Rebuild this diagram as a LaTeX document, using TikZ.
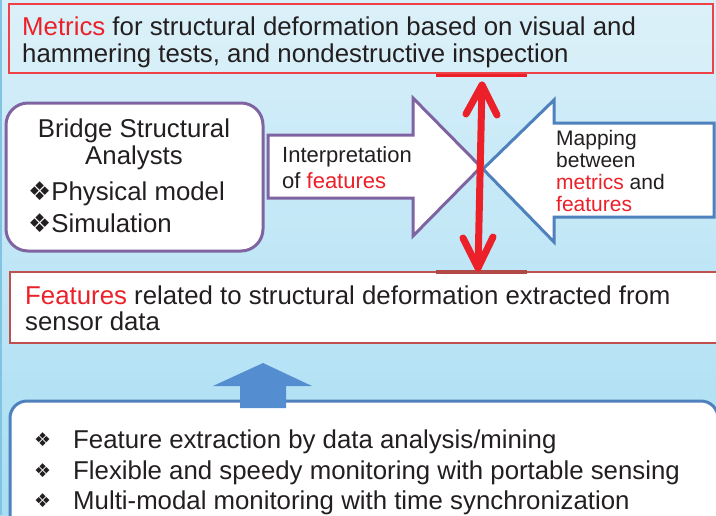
\documentclass[tikz,border=0pt]{standalone}
\usepackage{fontspec}
\setmainfont{Liberation Sans}
\newfontfamily\symfont{DejaVu Sans}
\usetikzlibrary{calc}

\definecolor{bgtop}{RGB}{216,239,249}
\definecolor{bgbot}{RGB}{168,222,243}
\definecolor{ink}{RGB}{35,31,32}
\definecolor{hot}{RGB}{236,32,40}
\definecolor{boxred}{RGB}{192,80,77}
\definecolor{plum}{RGB}{128,100,162}
\definecolor{steel}{RGB}{79,129,189}
\definecolor{sky}{RGB}{85,142,208}
\definecolor{edgeblue}{RGB}{128,196,225}

\newcommand{\hl}[1]{\textcolor{hot}{#1}}
\newcommand{\dia}{{\symfont\char"2756}}

\tikzset{
  txt/.style={anchor=base west, inner sep=0pt, text=ink,
              font=\fontsize{25.8}{27}\selectfont},
  txtmid/.style={txt, anchor=base},
  label22/.style={txt, font=\fontsize{22}{24}\selectfont},
  label21/.style={txt, font=\fontsize{21}{22}\selectfont},
  bul/.style={anchor=base west, inner sep=0pt, text=ink,
              font=\fontsize{19}{22}\selectfont},
  panel/.style={rectangle, inner sep=0pt, outer sep=0pt},
  twohead/.style={draw=hot, line width=7pt, line cap=round, line join=round},
  blockarrow/.style={fill=white, line width=3pt, line join=miter},
}

\begin{document}
\begin{tikzpicture}[x=1pt,y=-1pt]
  \useasboundingbox (0,0) rectangle (716,515);
  \clip (0,0) rectangle (716,515);

  % backdrop
  \fill[top color=bgtop, bottom color=bgbot] (0,0) rectangle (716,515);
  \draw[edgeblue, line width=2.5pt] (1,0) -- (1,515);

  % metrics panel
  \node[panel, draw=hot!85, line width=1.2pt, fill=white, fill opacity=0.12,
        minimum width=704pt, minimum height=69pt] (metrics) at (361,38.5) {};
  \draw[hot, line width=3pt] (436,75) -- (527,75);

  % analysts panel
  \node[panel, draw=plum, line width=3pt, fill=white, rounded corners=22pt,
        minimum width=257pt, minimum height=148pt] (analysts) at (134.5,177) {};

  % interpretation arrow (pointing right)
  \draw[blockarrow, draw=plum]
    (268,135) -- (413,135) -- (413,98) -- (481,167) -- (413,236)
    -- (413,198) -- (268,198) -- cycle;

  % mapping arrow (pointing left)
  \draw[blockarrow, draw=steel]
    (714,123) -- (554,123) -- (554,100) -- (483,169) -- (554,242)
    -- (554,217) -- (714,217) -- cycle;

  % features panel
  \node[panel, draw=boxred, line width=2.5pt, fill=white,
        minimum width=712pt, minimum height=71pt] (features) at (366,307.5) {};
  \draw[boxred!92!black, line width=4pt] (436,272) -- (527,272);

  % double-headed link between metrics and features
  \coordinate (tipU) at (482,85);
  \coordinate (tipD) at (478,268);
  \draw[twohead] (tipU) -- (tipD);
  \draw[twohead] ($(tipU)+(-16,29)$) -- (tipU) -- ($(tipU)+(15,30)$);
  \draw[twohead] ($(tipD)+(-15,-30)$) -- (tipD) -- ($(tipD)+(15,-31)$);

  % monitoring panel
  \node[panel, draw=steel, line width=3pt, fill=white, rounded corners=17pt,
        minimum width=708pt, minimum height=140pt] (monitor) at (364,471) {};

  % upward block arrow into features
  \fill[sky] (240,408) -- (240,386) -- (213,386) -- (263,363) -- (312,386)
    -- (286,386) -- (286,408) -- cycle;

  % texts: metrics
  \node[txt] (m1) at (22,35) {\hl{Metrics} for structural deformation based on visual and};
  \node[txt] (m2) at (22,62) {hammering tests, and nondestructive inspection};

  % texts: analysts
  \node[txtmid] (a1) at (134,137) {Bridge Structural};
  \node[txtmid] (a2) at (134,164) {Analysts};
  \node[txt] (a3) at (28,200) {\dia Physical model};
  \node[txt] (a4) at (28,232) {\dia Simulation};

  % texts: arrows
  \node[label22] (i1) at (282,162) {Interpretation};
  \node[label22] (i2) at (282,188) {of \hl{features}};
  \node[label21] (p1) at (556,145) {Mapping};
  \node[label21] (p2) at (556,167) {between};
  \node[label21] (p3) at (556,189) {\hl{metrics} and};
  \node[label21] (p4) at (556,211) {\hl{features}};

  % texts: features
  \node[txt] (f1) at (25,304) {\hl{Features} related to structural deformation extracted from};
  \node[txt] (f2) at (25,330) {sensor data};

  % texts: monitoring
  \node[bul] (b1) at (34,446) {\dia};
  \node[bul] (b2) at (34,477) {\dia};
  \node[bul] (b3) at (34,507) {\dia};
  \node[txt] (t1) at (73,448) {Feature extraction by data analysis/mining};
  \node[txt] (t2) at (73,479) {Flexible and speedy monitoring with portable sensing};
  \node[txt] (t3) at (73,509) {Multi-modal monitoring with time synchronization};
\end{tikzpicture}
\end{document}
